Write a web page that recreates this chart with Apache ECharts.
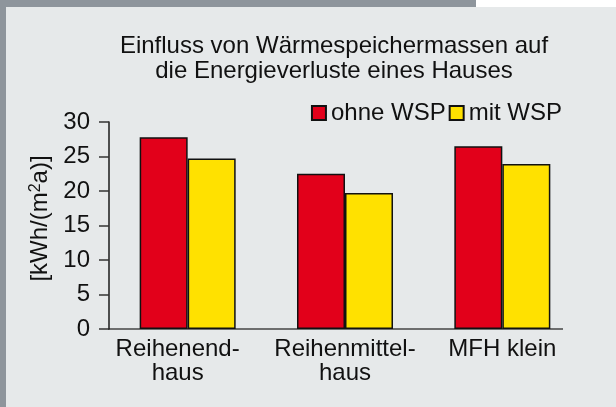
<!DOCTYPE html>
<html lang="de">
<head>
    <meta charset="UTF-8">
    <title>Wärmespeichermassen</title>
    <script src="https://cdn.jsdelivr.net/npm/echarts/dist/echarts.min.js"></script>
    <style>
        html, body { margin: 0; padding: 0; background: #e6e9ea; }
    </style>
</head>
<body>
<div id="main" style="width: 616px;height:407px;"></div>
<script type="text/javascript">
    // Daten
    var categories = ['Reihenend-\nhaus', 'Reihenmittel-\nhaus', 'MFH klein'];
    var ohneWSP = [27.8, 22.5, 26.5];
    var mitWSP = [24.7, 19.7, 23.9];
    var yTicks = [0, 30, 5]; // min, max, interval

    var font = 'Liberation Sans, Arial, sans-serif';
    var chart = echarts.init(document.getElementById('main'));

    var barStyle = function (color) {
        return { color: color, borderColor: '#111', borderWidth: 1.5 };
    };

    // erste Beschriftung sitzt im Original etwas weiter links
    var xData = categories.map(function (c, i) {
        return i === 0 ? { value: c, textStyle: { padding: [0, 20, 0, 0] } } : c;
    });

    chart.setOption({
        backgroundColor: '#e6e9ea',
        animation: false,
        textStyle: { fontFamily: font, color: '#111' },
        title: {
            text: 'Einfluss von Wärmespeichermassen auf\ndie Energieverluste eines Hauses',
            left: 329,
            textAlign: 'center',
            top: 29,
            textStyle: { fontFamily: font, fontSize: 24, fontWeight: 'normal', color: '#111', lineHeight: 25 }
        },
        legend: {
            right: 54,
            top: 101,
            itemWidth: 14,
            itemHeight: 14,
            itemGap: 3,
            padding: 0,
            icon: 'rect',
            textStyle: { fontFamily: font, fontSize: 24, color: '#111' },
            data: ['ohne WSP', 'mit WSP']
        },
        grid: { left: 109, top: 122, width: 472, height: 207, containLabel: false },
        xAxis: {
            type: 'category',
            data: xData,
            axisLine: { show: false },
            axisTick: { show: false },
            axisLabel: {
                interval: 0,
                margin: 8,
                fontFamily: font, fontSize: 24, color: '#111', lineHeight: 24
            }
        },
        yAxis: {
            type: 'value',
            min: yTicks[0],
            max: yTicks[1],
            interval: yTicks[2],
            name: '[kWh/(m{s|2}a)]',
            nameLocation: 'middle',
            nameGap: 57,
            nameTextStyle: {
                fontFamily: font, fontSize: 24, color: '#111',
                padding: [0, 0, 0, 14],
                rich: { s: { fontFamily: font, fontSize: 16, color: '#111', verticalAlign: 'top' } }
            },
            splitLine: { show: false },
            axisLine: { show: true, lineStyle: { color: '#1a1a1a', width: 1.5 } },
            axisTick: { show: true, length: 10, lineStyle: { color: '#333', width: 1.5 } },
            axisLabel: { margin: 19, fontFamily: font, fontSize: 24, color: '#111' }
        },
        series: [
            { name: 'ohne WSP', type: 'bar', data: ohneWSP, barWidth: 48, barGap: '0%', itemStyle: barStyle('#e2001a') },
            { name: 'mit WSP', type: 'bar', data: mitWSP, barWidth: 48, barGap: '0%', itemStyle: barStyle('#ffe100') }
        ]
    });

    // Rahmen und x-Achsenlinie
    var y0 = chart.convertToPixel({ yAxisIndex: 0 }, 0);
    chart.setOption({
        graphic: [
            { type: 'rect', shape: { x: 0, y: 0, width: 476, height: 7 }, style: { fill: '#8e959c' }, silent: true },
            { type: 'rect', shape: { x: 476, y: 0, width: 140, height: 7 }, style: { fill: '#ffffff' }, silent: true },
            { type: 'rect', shape: { x: 0, y: 0, width: 6, height: 407 }, style: { fill: '#8e959c' }, silent: true },
            { type: 'line', shape: { x1: 108, y1: y0, x2: 563, y2: y0 }, style: { stroke: '#444', lineWidth: 1.5 }, silent: true }
        ]
    });
</script>
</body>
</html>
